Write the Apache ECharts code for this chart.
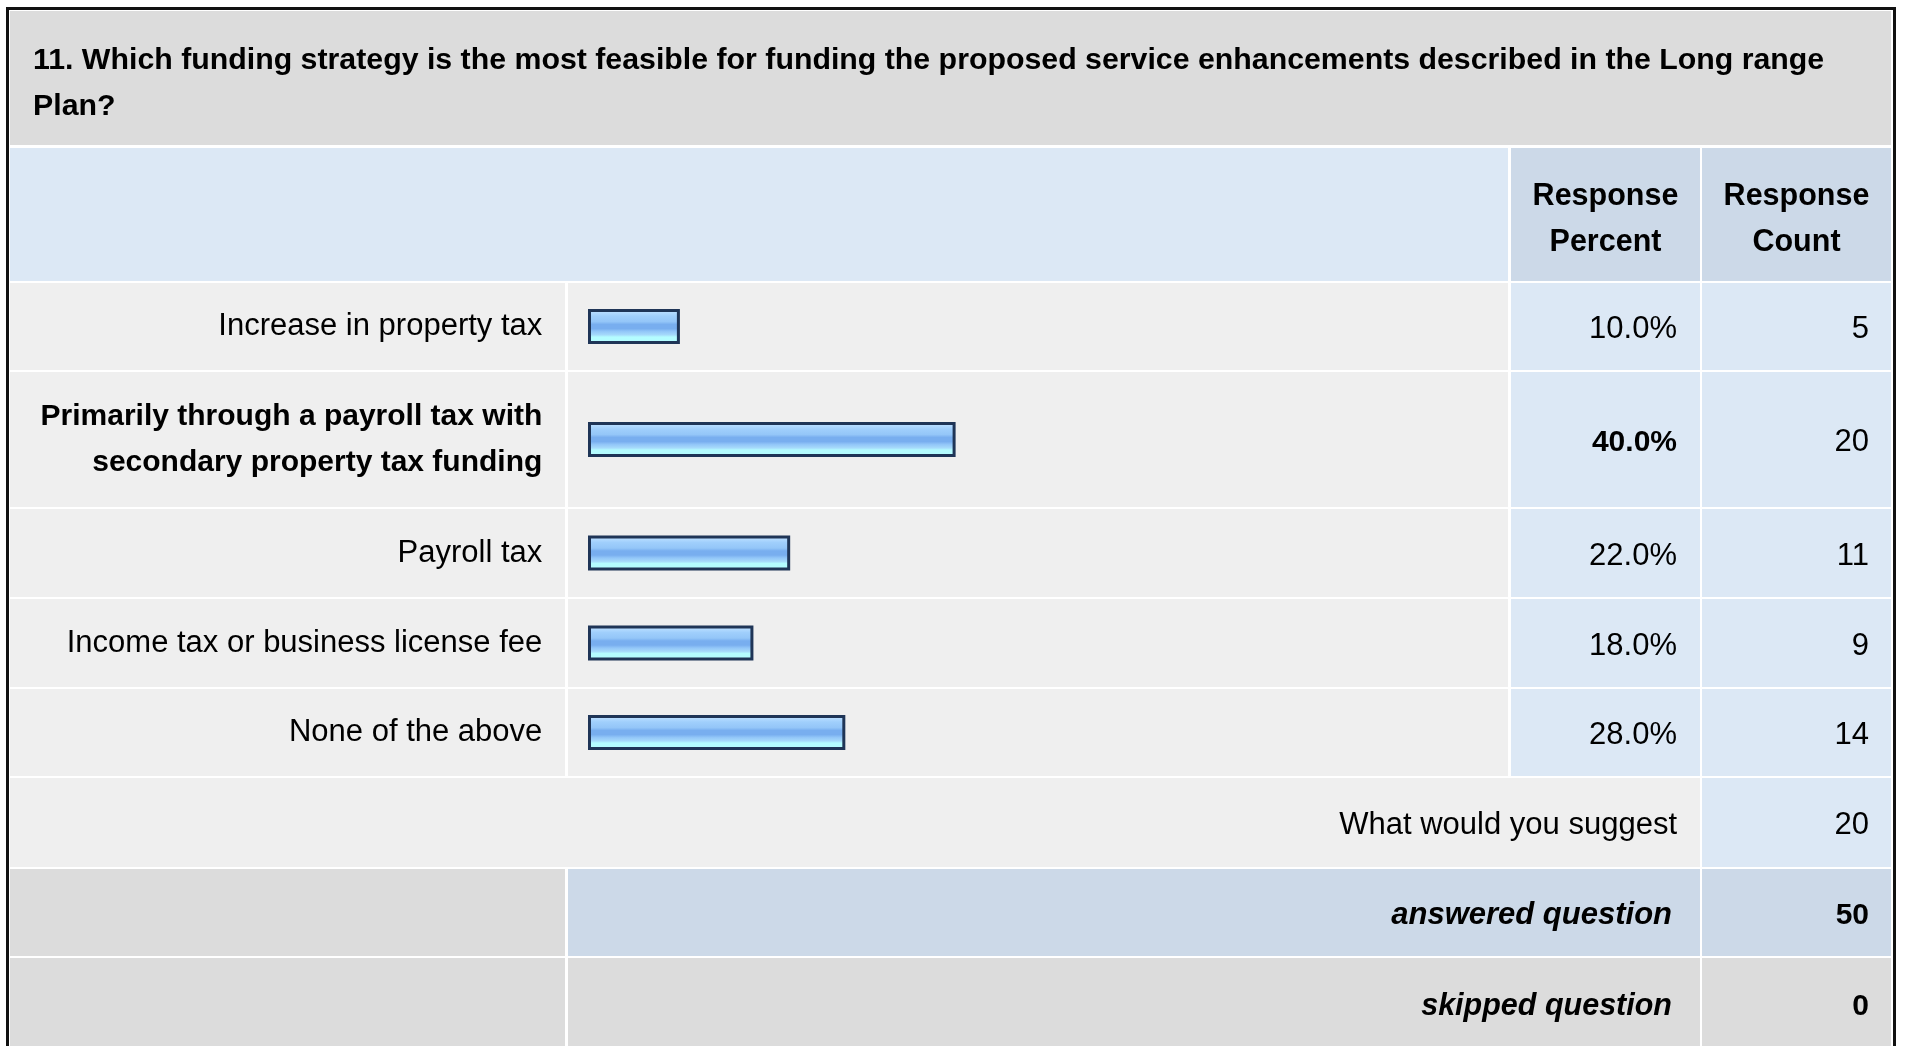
<!DOCTYPE html>
<html>
<head>
<meta charset="utf-8">
<script src="https://cdn.jsdelivr.net/npm/echarts@6/dist/echarts.min.js"></script>
<style>
html,body{margin:0;padding:0;background:#fff;}
#chart{width:1915px;height:1046px;}
</style>
</head>
<body>
<div id="chart"></div>
<script>
// ---- data ----
const questionTitle = '11. Which funding strategy is the most feasible for funding the proposed service enhancements described in the Long range\nPlan?';
const headerLabels = ['Response\nPercent', 'Response\nCount'];
const categories = [
  'Increase in property tax',
  'Primarily through a payroll tax with\nsecondary property tax funding',
  'Payroll tax',
  'Income tax or business license fee',
  'None of the above'
];
const percents = [10.0, 40.0, 22.0, 18.0, 28.0];
const counts = [5, 20, 11, 9, 14];
const otherLabel = 'What would you suggest';
const otherCount = 20;
const answeredLabel = 'answered question';
const answeredCount = 50;
const skippedLabel = 'skipped question';
const skippedCount = 0;

// ---- layout ----
const FONT = '"Liberation Sans", Arial, Helvetica, sans-serif';
const rowTops = [283, 372, 509, 599, 689];
const rowHeights = [87, 135, 88, 88, 87];
const colLabel = [10, 565];
const colBar = [568, 1508];
const colPct = [1511, 1700];
const colCnt = [1702, 1891];
const pctRight = 1677, cntRight = 1869;
const FS = 31;      // regular text
const FSB = 30;     // bold text
const DY = 3;       // visual baseline shift

const maxPct = Math.max.apply(null, percents);
const graphics = [];
function rect(x1, y1, x2, y2, fill) {
  graphics.push({type: 'rect', z: -10, silent: true, shape: {x: x1, y: y1, width: x2 - x1, height: y2 - y1}, style: {fill: fill}});
}
function text(x, y, str, opt) {
  graphics.push({type: 'text', z: 10, silent: true, x: x, y: y, style: Object.assign({
    text: str, fill: '#000', font: 'normal ' + FS + 'px ' + FONT,
    align: 'right', verticalAlign: 'middle'
  }, opt || {})});
}
// outer frame
graphics.push({type: 'rect', z: -5, silent: true, shape: {x: 7.5, y: 8.5, width: 1887, height: 1060}, style: {fill: 'none', stroke: '#111', lineWidth: 3}});
// title
rect(10, 11, 1891, 145, '#dcdcdc');
text(33, 84, questionTitle, {align: 'left', font: 'bold 30.3px ' + FONT, lineHeight: 46});
// header
rect(10, 148, 1508, 281, '#dce8f5');
rect(colPct[0], 148, colPct[1], 281, '#ccd9e8');
rect(colCnt[0], 148, colCnt[1], 281, '#ccd9e8');
text((colPct[0] + colPct[1]) / 2, 220, headerLabels[0], {align: 'center', font: 'bold 30.5px ' + FONT, lineHeight: 46});
text((colCnt[0] + colCnt[1]) / 2, 220, headerLabels[1], {align: 'center', font: 'bold 30.5px ' + FONT, lineHeight: 46});
// answer rows
for (let i = 0; i < categories.length; i++) {
  const t = rowTops[i], b = t + rowHeights[i], c = t + rowHeights[i] / 2 + DY;
  rect(colLabel[0], t, colLabel[1], b, '#efefef');
  rect(colBar[0], t, colBar[1], b, '#efefef');
  rect(colPct[0], t, colPct[1], b, '#dce8f5');
  rect(colCnt[0], t, colCnt[1], b, '#dce8f5');
  const bold = percents[i] === maxPct;
  text(pctRight, c, percents[i].toFixed(1) + '%', {font: bold ? ('bold ' + FSB + 'px ' + FONT) : ('normal ' + FS + 'px ' + FONT)});
  text(cntRight, c, String(counts[i]));
}
// other row
rect(10, 778, colPct[1], 867, '#efefef');
rect(colCnt[0], 778, colCnt[1], 867, '#dce8f5');
text(pctRight, 822.5 + DY, otherLabel);
text(cntRight, 822.5 + DY, String(otherCount));
// answered row
rect(colLabel[0], 869, colLabel[1], 956, '#dcdcdc');
rect(colBar[0], 869, colPct[1], 956, '#ccd9e8');
rect(colCnt[0], 869, colCnt[1], 956, '#ccd9e8');
text(1672, 912.5 + DY, answeredLabel, {font: 'italic bold 31px ' + FONT});
text(cntRight, 912.5 + DY, String(answeredCount), {font: 'bold ' + FSB + 'px ' + FONT});
// skipped row
rect(colLabel[0], 958, colLabel[1], 1046, '#dcdcdc');
rect(colBar[0], 958, colPct[1], 1046, '#dcdcdc');
rect(colCnt[0], 958, colCnt[1], 1046, '#dcdcdc');
text(1672, 1003.5 + DY, skippedLabel, {font: 'italic bold 30.5px ' + FONT});
text(cntRight, 1003.5 + DY, String(skippedCount), {font: 'bold ' + FSB + 'px ' + FONT});

const barGradient = {
  type: 'linear', x: 0, y: 0, x2: 0, y2: 1,
  colorStops: [
    {offset: 0, color: '#cfe8ff'},
    {offset: 0.1, color: '#b4dbff'},
    {offset: 0.2, color: '#a0cffc'},
    {offset: 0.36, color: '#94c6f8'},
    {offset: 0.44, color: '#78aeef'},
    {offset: 0.56, color: '#78aeef'},
    {offset: 0.64, color: '#92c6f8'},
    {offset: 0.74, color: '#a6dafb'},
    {offset: 0.8, color: '#b4fcff'},
    {offset: 1, color: '#b4fcff'}
  ]
};

const grids = [], xAxes = [], yAxes = [], series = [];
for (let i = 0; i < categories.length; i++) {
  grids.push({left: 588, width: 919, top: rowTops[i], height: rowHeights[i], containLabel: false});
  xAxes.push({gridIndex: i, type: 'value', min: 0, max: 100, show: false});
  const bold = percents[i] === maxPct;
  yAxes.push({
    gridIndex: i, type: 'category', data: [categories[i]],
    axisLine: {show: false}, axisTick: {show: false}, splitLine: {show: false},
    axisLabel: {
      margin: 45.7, color: '#000', fontFamily: FONT, fontSize: bold ? FSB : FS,
      fontWeight: bold ? 'bold' : 'normal', lineHeight: 46, align: 'right',
      padding: [bold ? 10 : 2 * DY, 0, 0, 0]
    }
  });
  series.push({
    type: 'bar', xAxisIndex: i, yAxisIndex: i, data: [percents[i]],
    barWidth: 35, silent: true, animation: false,
    itemStyle: {color: barGradient, borderColor: '#1f3557', borderWidth: 3}
  });
}

const chart = echarts.init(document.getElementById('chart'), null, {renderer: 'canvas'});
chart.setOption({
  animation: false,
  backgroundColor: '#ffffff',
  grid: grids, xAxis: xAxes, yAxis: yAxes, series: series,
  graphic: {elements: graphics}
});
</script>
</body>
</html>
